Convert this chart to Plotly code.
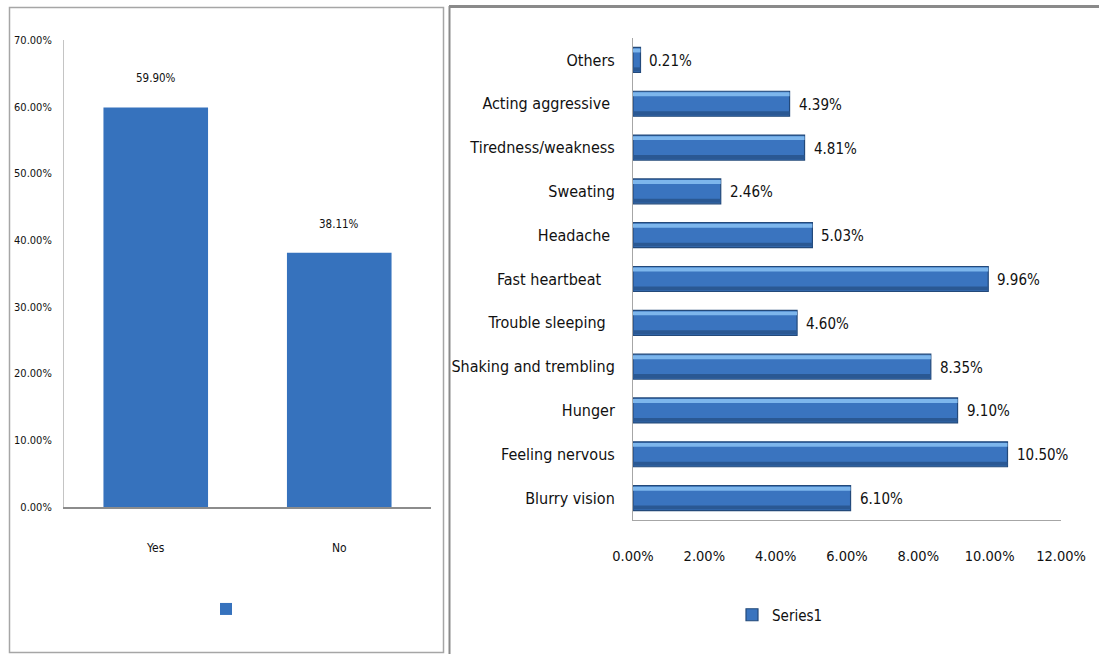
import plotly.graph_objects as go

# Left panel: share of respondents answering Yes / No
answers = ["Yes", "No"]
answer_pct = [59.90, 38.11]

# Right panel: reported symptoms (bottom to top); trailing spaces kept as typed
symptoms = [
    "Blurry vision",
    "Feeling nervous",
    "Hunger",
    "Shaking and trembling",
    "Trouble sleeping  ",
    "Fast heartbeat   ",
    "Headache ",
    "Sweating",
    "Tiredness/weakness",
    "Acting aggressive ",
    "Others",
]
symptom_pct = [6.10, 10.50, 9.10, 8.35, 4.60, 9.96, 5.03, 2.46, 4.81, 4.39, 0.21]

FONT = "DejaVu Sans Condensed, DejaVu Sans, sans-serif"
W, H = 1099, 654


def px_x(p):
    return p / W


def px_y(p):
    return (H - p) / H


def keep_trailing(s):
    core = s.rstrip()
    return core + "\u00a0" * (len(s) - len(core))


fig = go.Figure()

# Yes / No columns
fig.add_trace(go.Bar(
    x=answers, y=answer_pct, xaxis="x", yaxis="y",
    width=0.57,
    marker=dict(color="#3672bd", line=dict(width=0)),
    name="", legend="legend2", showlegend=True, hoverinfo="skip",
))

# Symptom bars with a bevelled look: body, top highlight, bottom shade
fig.add_trace(go.Bar(
    y=symptoms, x=symptom_pct, orientation="h", xaxis="x2", yaxis="y2",
    width=0.57,
    marker=dict(color="#3a74bf", line=dict(color="#23497a", width=1.2)),
    name="Series1", legend="legend", showlegend=True, hoverinfo="skip",
))
fig.add_trace(go.Bar(
    y=symptoms, x=symptom_pct, orientation="h", xaxis="x2", yaxis="y2",
    width=0.09, offset=0.17,
    marker=dict(color="#7db6ec", line=dict(width=0)),
    showlegend=False, hoverinfo="skip",
))
fig.add_trace(go.Bar(
    y=symptoms, x=symptom_pct, orientation="h", xaxis="x2", yaxis="y2",
    width=0.09, offset=-0.26,
    marker=dict(color="#2a5893", line=dict(width=0)),
    showlegend=False, hoverinfo="skip",
))

annotations = []
for a, v in zip(answers, answer_pct):
    annotations.append(dict(
        x=a, y=v, xref="x", yref="y", text=f"{v:.2f}%", showarrow=False,
        yshift=29, font=dict(family=FONT, size=11.5, color="#111111"),
    ))
for s, v in zip(symptoms, symptom_pct):
    annotations.append(dict(
        x=v, y=s, xref="x2", yref="y2", text=f"{v:.2f}%", showarrow=False,
        xanchor="left", xshift=7, yshift=-1,
        font=dict(family=FONT, size=15, color="#111111"),
    ))

shapes = [
    # left panel frame
    dict(type="rect", xref="paper", yref="paper",
         x0=px_x(9.5), x1=px_x(443.5), y0=px_y(652.5), y1=px_y(7.5),
         line=dict(color="#a6a6a6", width=1.5)),
    # right panel top and left edges
    dict(type="line", xref="paper", yref="paper",
         x0=px_x(449), x1=px_x(1099), y0=px_y(6.5), y1=px_y(6.5),
         line=dict(color="#8a8a8a", width=3)),
    dict(type="line", xref="paper", yref="paper",
         x0=px_x(449.5), x1=px_x(449.5), y0=px_y(654), y1=px_y(6),
         line=dict(color="#8a8a8a", width=2)),
]

fig.update_layout(
    width=W, height=H,
    margin=dict(l=0, r=0, t=0, b=0, autoexpand=False),
    paper_bgcolor="white", plot_bgcolor="white",
    font=dict(family=FONT, color="#111111"),
    barmode="overlay",
    xaxis=dict(
        domain=[px_x(64), px_x(431)], anchor="y", automargin=False,
        showline=True, linecolor="#8c8c8c", linewidth=2,
        showgrid=False, zeroline=False, ticks="",
        ticklabelstandoff=29, tickfont=dict(size=12),
    ),
    yaxis=dict(
        domain=[px_y(507), px_y(40)], anchor="x", automargin=False,
        range=[0, 70], dtick=10, tickformat=".2f", ticksuffix="%",
        showline=True, linecolor="#c4c4c4", linewidth=1,
        showgrid=False, zeroline=False, ticks="",
        ticklabelstandoff=9, tickfont=dict(size=11),
    ),
    xaxis2=dict(
        domain=[px_x(633), px_x(1061)], anchor="y2", automargin=False,
        range=[0, 12], dtick=2, tickformat=".2f", ticksuffix="%",
        showline=True, linecolor="#a6a6a6", linewidth=1,
        showgrid=False, zeroline=False, ticks="",
        ticklabelstandoff=23, tickfont=dict(size=14.5),
    ),
    yaxis2=dict(
        domain=[px_y(520), px_y(38)], anchor="x2", automargin=False,
        categoryorder="array", categoryarray=symptoms,
        tickvals=symptoms, ticktext=[keep_trailing(s) for s in symptoms],
        showline=True, linecolor="#a6a6a6", linewidth=1,
        showgrid=False, zeroline=False, ticks="",
        ticklabelstandoff=14, tickfont=dict(size=16),
    ),
    legend=dict(
        x=px_x(732), y=px_y(615), xanchor="left", yanchor="middle",
        bgcolor="rgba(0,0,0,0)", font=dict(size=15),
    ),
    legend2=dict(
        x=px_x(206), y=px_y(609), xanchor="left", yanchor="middle",
        bgcolor="rgba(0,0,0,0)", font=dict(size=13),
    ),
    annotations=annotations,
    shapes=shapes,
)

fig.write_html("out.html")
